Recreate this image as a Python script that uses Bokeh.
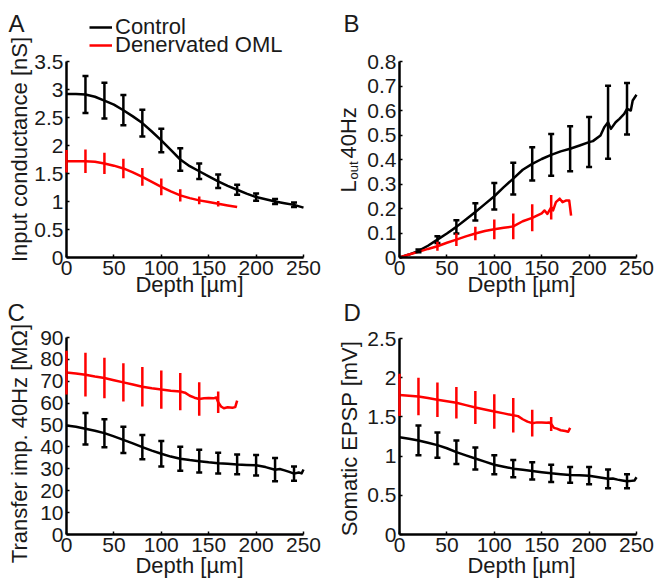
import math
from bokeh.plotting import figure
from bokeh.models import (Range1d, FixedTicker, NumeralTickFormatter, Label, Legend,
                          LegendItem, Whisker, TeeHead, ColumnDataSource)
from bokeh.layouts import column, row
from bokeh.embed import file_html
from bokeh.resources import INLINE

# ---------------- data ----------------
x_ticks = [0, 50, 100, 150, 200, 250]

# Panel A: input conductance [nS]
a_ctrl_x = [0, 10, 20, 30, 40, 50, 60, 70, 80, 90, 100, 110, 120, 130, 140, 150, 160, 170, 180, 190, 200, 210, 220, 230, 240, 250]
a_ctrl_y = [2.92, 2.92, 2.91, 2.87, 2.80, 2.73, 2.63, 2.52, 2.40, 2.25, 2.09, 1.92, 1.75, 1.63, 1.54, 1.45, 1.36, 1.28, 1.21, 1.14, 1.08, 1.04, 1.00, 0.97, 0.94, 0.89]
a_ctrl_ex = [20, 40, 60, 80, 100, 120, 140, 160, 180, 200, 220, 240]
a_ctrl_err = [0.33, 0.32, 0.27, 0.24, 0.21, 0.20, 0.14, 0.12, 0.09, 0.065, 0.045, 0.04]
a_den_x = [0, 10, 20, 30, 40, 50, 60, 70, 80, 90, 100, 110, 120, 130, 140, 150, 160, 170, 180]
a_den_y = [1.72, 1.72, 1.72, 1.71, 1.68, 1.64, 1.59, 1.52, 1.44, 1.35, 1.26, 1.18, 1.11, 1.06, 1.02, 0.99, 0.96, 0.93, 0.90]
a_den_ex = [0, 20, 40, 60, 80, 100, 120, 140, 160]
a_den_err = [0.20, 0.21, 0.19, 0.175, 0.16, 0.15, 0.11, 0.07, 0.05]

# Panel B: L_out 40Hz
b_ctrl_x = [0, 10, 20, 30, 40, 50, 60, 70, 80, 90, 100, 110, 120, 130, 140, 150, 160, 170, 180, 190, 200, 204, 212, 216, 220, 223, 228, 232, 237, 240, 244, 246, 250]
b_ctrl_y = [0, 0.012, 0.027, 0.048, 0.073, 0.098, 0.125, 0.155, 0.186, 0.218, 0.25, 0.287, 0.322, 0.358, 0.382, 0.402, 0.419, 0.433, 0.444, 0.457, 0.471, 0.475, 0.498, 0.532, 0.552, 0.525, 0.552, 0.566, 0.586, 0.607, 0.60, 0.641, 0.664]
b_ctrl_ex = [20, 40, 60, 80, 100, 120, 140, 160, 180, 200, 220, 240]
b_ctrl_err = [0.006, 0.014, 0.027, 0.035, 0.054, 0.065, 0.068, 0.085, 0.092, 0.102, 0.149, 0.105]
b_den_x = [0, 10, 20, 30, 40, 50, 60, 70, 80, 90, 100, 110, 120, 130, 140, 150, 153, 156, 160, 162, 165, 169, 172, 176, 179, 181]
b_den_y = [0, 0.012, 0.023, 0.035, 0.046, 0.060, 0.073, 0.086, 0.098, 0.108, 0.115, 0.121, 0.127, 0.148, 0.162, 0.180, 0.192, 0.178, 0.205, 0.192, 0.226, 0.240, 0.226, 0.233, 0.233, 0.171]
b_den_ex = [40, 60, 80, 100, 120, 140, 160]
b_den_err = [0.018, 0.026, 0.028, 0.040, 0.053, 0.055, 0.050]

# Panel C: transfer impedance 40Hz [MOhm]
c_ctrl_x = [0, 10, 20, 30, 40, 50, 60, 70, 80, 90, 100, 110, 120, 130, 140, 150, 160, 170, 180, 190, 200, 210, 220, 225, 230, 235, 240, 245, 248, 250]
c_ctrl_y = [49.8, 49.2, 48.3, 47.4, 46.3, 44.8, 43.2, 41.6, 39.9, 38.3, 36.9, 35.6, 34.6, 34.0, 33.5, 33.0, 32.6, 32.3, 32.0, 31.8, 31.6, 30.8, 29.6, 29.9, 29.3, 28.6, 27.8, 28.3, 27.9, 29.7]
c_ctrl_ex = [20, 40, 60, 80, 100, 120, 140, 160, 180, 200, 220, 240]
c_ctrl_err = [7.2, 6.4, 6.0, 5.5, 5.8, 5.5, 5.2, 4.7, 4.5, 4.7, 5.3, 3.3]
c_den_x = [0, 10, 20, 30, 40, 50, 60, 70, 80, 90, 100, 110, 120, 125, 130, 135, 140, 145, 150, 155, 158, 160, 163, 166, 170, 175, 178, 180]
c_den_y = [74.0, 73.6, 73.0, 72.2, 71.5, 70.5, 69.5, 68.5, 67.5, 66.8, 66.2, 65.7, 65.3, 64.8, 63.4, 62.5, 61.9, 62.2, 62.4, 62.2, 62.6, 60.4, 58.5, 57.7, 58.1, 57.9, 58.2, 61.2]
c_den_ex = [0, 20, 40, 60, 80, 100, 120, 140, 160]
c_den_err = [10.0, 10.0, 9.3, 8.7, 9.0, 8.7, 8.5, 7.6, 4.9]

# Panel D: somatic EPSP [mV]
d_ctrl_x = [0, 10, 20, 30, 40, 50, 60, 70, 80, 90, 100, 110, 120, 130, 140, 150, 160, 170, 180, 190, 200, 210, 220, 225, 230, 235, 240, 245, 248, 250]
d_ctrl_y = [1.24, 1.22, 1.20, 1.17, 1.14, 1.10, 1.05, 1.01, 0.97, 0.93, 0.89, 0.865, 0.84, 0.825, 0.81, 0.795, 0.78, 0.77, 0.76, 0.755, 0.75, 0.73, 0.71, 0.715, 0.70, 0.69, 0.68, 0.685, 0.69, 0.73]
d_ctrl_ex = [20, 40, 60, 80, 100, 120, 140, 160, 180, 200, 220, 240]
d_ctrl_err = [0.19, 0.16, 0.15, 0.14, 0.12, 0.11, 0.11, 0.11, 0.10, 0.11, 0.12, 0.09]
d_den_x = [0, 10, 20, 30, 40, 50, 60, 70, 80, 90, 100, 110, 120, 125, 130, 135, 140, 145, 150, 155, 158, 160, 163, 166, 170, 175, 178, 180]
d_den_y = [1.78, 1.77, 1.76, 1.74, 1.72, 1.70, 1.68, 1.65, 1.62, 1.595, 1.57, 1.545, 1.52, 1.51, 1.47, 1.44, 1.42, 1.43, 1.43, 1.425, 1.43, 1.41, 1.36, 1.35, 1.33, 1.32, 1.31, 1.36]
d_den_ex = [0, 20, 40, 60, 80, 100, 120, 140, 160]
d_den_err = [0.27, 0.24, 0.22, 0.20, 0.21, 0.22, 0.22, 0.17, 0.09]

a_yticks = [0, 0.5, 1, 1.5, 2, 2.5, 3, 3.5]
b_yticks = [0, 0.1, 0.2, 0.3, 0.4, 0.5, 0.6, 0.7, 0.8]
c_yticks = [0, 10, 20, 30, 40, 50, 60, 70, 80, 90]
d_yticks = [0, 0.5, 1, 1.5, 2, 2.5]

legend_labels = ["Control", "Denervated OML"]
x_label = "Depth [µm]"

# ---------------- style ----------------
FONT = "Liberation Sans"
TXT = "#1a1a1a"
BLACK = "#000000"
RED = "#ff0000"
LW = 2.5
ROT = math.pi / 2


def make_panel(W, H, L, R, T, B, yticks):
    """Canvas W x H; the axes box spans pixels L..R (x) and T..B (y, from top)."""
    xmax = x_ticks[-1]
    ymax = yticks[-1]
    sx = (R - L) / xmax
    sy = (B - T) / ymax
    p = figure(frame_width=W, frame_height=H,
               x_range=Range1d(-L / sx, xmax + (W - R) / sx),
               y_range=Range1d(-(H - B) / sy, ymax + T / sy),
               output_backend="svg", toolbar_location=None,
               min_border=0, min_border_left=0, min_border_right=0,
               min_border_top=0, min_border_bottom=0)
    p.outline_line_color = None
    p.xgrid.visible = False
    p.ygrid.visible = False
    p.background_fill_color = "white"
    p.border_fill_color = "white"
    p.xaxis.fixed_location = 0
    p.yaxis.fixed_location = 0
    p.xaxis.bounds = (0, xmax)
    p.yaxis.bounds = (0, ymax)
    for ax, ticks in ((p.xaxis[0], x_ticks), (p.yaxis[0], yticks)):
        ax.ticker = FixedTicker(ticks=ticks)
        ax.formatter = NumeralTickFormatter(format="0.[0]")
        ax.axis_line_width = LW
        ax.axis_line_color = BLACK
        ax.major_tick_in = 3
        ax.major_tick_out = 0
        ax.major_tick_line_width = 1.5
        ax.minor_tick_line_color = None
        ax.major_label_text_font = FONT
        ax.major_label_text_font_size = "21px"
        ax.major_label_text_color = TXT
    p.xaxis.major_label_standoff = 3
    p.yaxis.major_label_standoff = 3
    return p


def draw_series(p, xs, ys, ex, err, color, caps):
    r = p.line(xs, ys, line_color=color, line_width=LW, line_join="round")
    lookup = dict(zip(xs, ys))
    mid = [lookup[d] for d in ex]
    src = ColumnDataSource(dict(x=ex, upper=[m + e for m, e in zip(mid, err)],
                                lower=[m - e for m, e in zip(mid, err)]))
    if caps:
        heads = dict(upper_head=TeeHead(size=6, line_color=color, line_width=LW),
                     lower_head=TeeHead(size=6, line_color=color, line_width=LW))
    else:
        heads = dict(upper_head=None, lower_head=None)
    p.add_layout(Whisker(source=src, base="x", upper="upper", lower="lower",
                         line_color=color, line_width=LW, level="overlay", **heads))
    return r


def add_text(p, text, x, y, size="22px", angle=0.0, align="left", baseline="alphabetic"):
    p.add_layout(Label(x=x, y=y, x_units="screen", y_units="screen", text=text,
                       text_font=FONT, text_font_size=size, text_color=TXT,
                       angle=angle, text_align=align, text_baseline=baseline))


# ---- Panel A ----
pa = make_panel(330, 299, 66, 303, 61, 257, a_yticks)
ra1 = draw_series(pa, a_ctrl_x, a_ctrl_y, a_ctrl_ex, a_ctrl_err, BLACK, True)
ra2 = draw_series(pa, a_den_x, a_den_y, a_den_ex, a_den_err, RED, False)
add_text(pa, "A", 8, 276, size="24px")
add_text(pa, "Input conductance [nS]", 19, 150, angle=ROT, align="center")
add_text(pa, x_label, 189, 15, align="center")
for lab, rr, ly in ((legend_labels[0], ra1, 259), (legend_labels[1], ra2, 241)):
    leg = Legend(items=[LegendItem(label=lab, renderers=[rr])], location=(89, ly),
                 padding=0, margin=0, spacing=0, border_line_color=None,
                 background_fill_alpha=0, glyph_width=23, glyph_height=20,
                 label_height=20, label_standoff=3,
                 label_text_font=FONT, label_text_font_size="22px", label_text_color=TXT)
    pa.add_layout(leg)

# ---- Panel B ----
pb = make_panel(327, 299, 69, 306, 61, 257, b_yticks)
draw_series(pb, b_ctrl_x, b_ctrl_y, b_ctrl_ex, b_ctrl_err, BLACK, True)
draw_series(pb, b_den_x, b_den_y, b_den_ex, b_den_err, RED, False)
add_text(pb, "B", 13, 276, size="24px")
add_text(pb, "L", 18, 107, angle=ROT)
add_text(pb, "out", 23, 120, size="13px", angle=ROT)
add_text(pb, "40Hz", 18, 141, angle=ROT)
add_text(pb, x_label, 191, 15, align="center")

# ---- Panel C ----
pc = make_panel(330, 281, 66, 303, 38, 235, c_yticks)
draw_series(pc, c_ctrl_x, c_ctrl_y, c_ctrl_ex, c_ctrl_err, BLACK, True)
draw_series(pc, c_den_x, c_den_y, c_den_ex, c_den_err, RED, False)
add_text(pc, "C", 7, 268, size="24px")
add_text(pc, "Transfer imp. 40Hz [MΩ]", 19, 137, angle=ROT, align="center")
add_text(pc, x_label, 189, 15, align="center")

# ---- Panel D ----
pd_ = make_panel(327, 281, 69, 306, 39, 235, d_yticks)
draw_series(pd_, d_ctrl_x, d_ctrl_y, d_ctrl_ex, d_ctrl_err, BLACK, True)
draw_series(pd_, d_den_x, d_den_y, d_den_ex, d_den_err, RED, False)
add_text(pd_, "D", 13, 268, size="24px")
add_text(pd_, "Somatic EPSP [mV]", 19, 142, angle=ROT, align="center")
add_text(pd_, x_label, 191, 15, align="center")

layout = column(row(pa, pb), row(pc, pd_))

open("out.html", "w").write(file_html(layout, INLINE))
